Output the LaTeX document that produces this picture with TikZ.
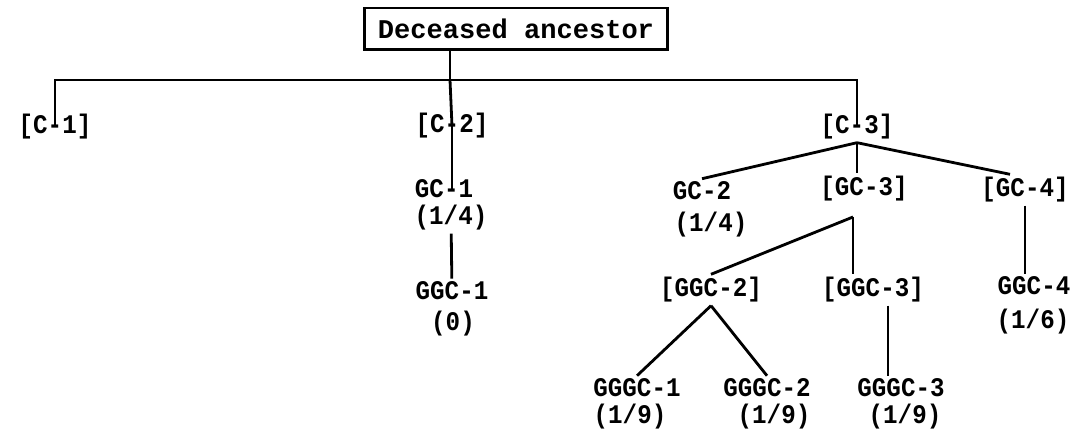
\documentclass[tikz,border=0pt]{standalone}
\usepackage{fontspec}
\usepackage{tikz}
\newfontfamily\heirfont[FakeStretch=0.9]{Liberation Mono}
\newfontfamily\boxfont{Liberation Mono}
\tikzstyle{heir} = [inner sep=1pt,
  font=\heirfont\bfseries\fontsize{15.3}{18}\selectfont]
\tikzstyle{ancestor} = [draw, line width=1.7pt, inner sep=0pt,
  minimum width=6.06cm, minimum height=0.84cm,
  font=\boxfont\bfseries\fontsize{15.4}{18}\selectfont]

\begin{document}
\begin{tikzpicture}[x=0.02cm, y=-0.02cm, line width=1.6pt]
  \useasboundingbox (0,0) rectangle (1075,435);

  \node[ancestor] (dec) at (516, 29) {Deceased ancestor};

  \node[heir] (c1) at (55, 127) {[C-1]};
  \node[heir] (c2) at (452, 126) {[C-2]};
  \node[heir] (c3) at (857, 127) {[C-3]};

  \node[heir] (gc1) at (444, 189) {GC-1};
  \node[heir] (gc1s) at (451, 218) {(1/4)};
  \node[heir] (ggc1) at (452, 291) {GGC-1};
  \node[heir] (ggc1s) at (453, 324) {(0)};

  \node[heir] (gc2) at (702, 191) {GC-2};
  \node[heir] (gc2s) at (711, 225) {(1/4)};
  \node[heir] (gc3) at (864, 189) {[GC-3]};
  \node[heir] (gc4) at (1025, 190) {[GC-4]};
  \node[heir] (ggc4) at (1034, 286) {GGC-4};
  \node[heir] (ggc4s) at (1033, 322) {(1/6)};

  \node[heir] (ggc2) at (711, 290) {[GGC-2]};
  \node[heir] (ggc3) at (873, 290) {[GGC-3]};
  \node[heir] (gggc1) at (637, 388) {GGGC-1};
  \node[heir] (gggc1s) at (630, 417) {(1/9)};
  \node[heir] (gggc2) at (767, 388) {GGGC-2};
  \node[heir] (gggc2s) at (774, 417) {(1/9)};
  \node[heir] (gggc3) at (901, 388) {GGGC-3};
  \node[heir] (gggc3s) at (905, 417) {(1/9)};

  \coordinate (bar) at (450, 80);
  \coordinate (j3) at (853, 217);

  \path[draw] (dec.south -| bar) -- (bar);
  \path[draw] (c1.center) -- (c1 |- bar) -- (c3 |- bar) -- (c3.center);
  \path[draw] (bar) -- (c2.center);
  \path[draw] (c2.center) -- (c2.center |- gc1.center);
  \path[draw] (gc1s) -- (ggc1);

  \path[draw] (c3.south) -- (gc2.north);
  \path[draw] (c3.south) -- (c3.south |- gc3.north);
  \path[draw] (c3.south) -- ([xshift=-0.3cm]gc4.north);
  \path[draw] (gc4.south) -- (gc4.south |- ggc4.north);

  \path[draw] (j3) -- (ggc2.north);
  \path[draw] (j3) -- (j3 |- ggc3.north);
  \path[draw] (ggc2.south) -- (gggc1.north);
  \path[draw] (ggc2.south) -- (gggc2.north);
  \path[draw] ([xshift=0.3cm]ggc3.south) -- ([xshift=0.3cm]ggc3.south |- gggc3.north);
\end{tikzpicture}
\end{document}
